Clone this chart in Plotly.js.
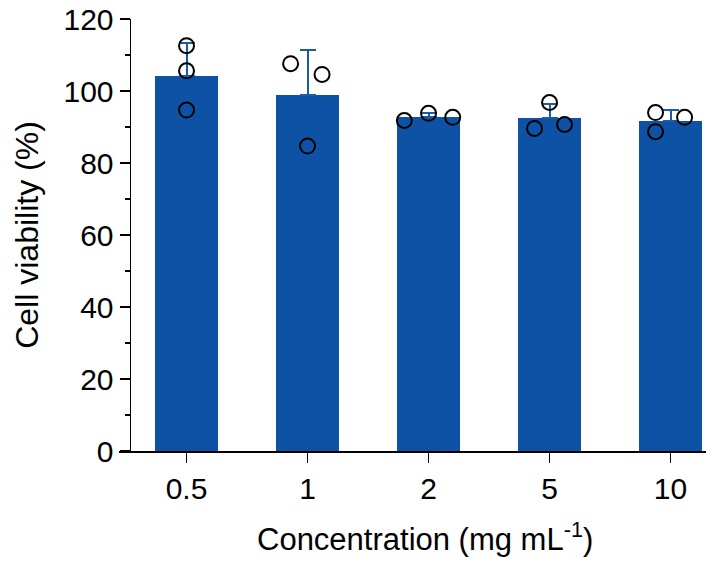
<!DOCTYPE html>
<html>
<head>
<meta charset="utf-8">
<script src="https://cdn.plot.ly/plotly-3.0.1.min.js"></script>
<style>html,body{margin:0;padding:0;background:#fff;}#chart{width:717px;height:563px;}</style>
</head>
<body>
<div id="chart"></div>
<script>
// Data
const categories = ["0.5", "1", "2", "5", "10"];
const meanValues = [104.3, 99.0, 92.8, 92.4, 91.8];
const sdValues = [9.0, 12.4, 1.0, 3.9, 2.8];
// individual replicate points (three per concentration)
const replicateValues = [
  [112.6, 105.6, 94.7],
  [107.6, 104.6, 84.7],
  [91.8, 93.8, 92.7],
  [89.6, 96.8, 90.7],
  [94.0, 88.7, 92.7]
];
// horizontal scatter offsets of the replicate points (category units)
const replicateOffsets = [
  [0, 0, 0],
  [-0.14, 0.12, 0],
  [-0.2, 0, 0.2],
  [-0.124, 0, 0.124],
  [-0.124, -0.124, 0.116]
];
const xTitle = 'Concentration (mg mL<sup>-1</sup>)';
const yTitle = 'Cell viability (%)';

const idx = categories.map((c, i) => i);
const ptX = [], ptY = [];
replicateValues.forEach((vals, i) => {
  vals.forEach((v, j) => { ptX.push(i + replicateOffsets[i][j]); ptY.push(v); });
});

const blue = '#0e52a6';
const font = 'Liberation Sans, Arial, Helvetica, sans-serif';

const traces = [
  {
    type: 'bar', x: idx, y: meanValues, width: 0.52,
    marker: {color: blue, line: {width: 0}},
    error_y: {type: 'data', symmetric: false, array: sdValues, arrayminus: sdValues.map(() => 0),
              color: '#1c5aa8', thickness: 2, width: 8},
    hoverinfo: 'skip', showlegend: false
  },
  {
    type: 'scatter', mode: 'markers', x: ptX, y: ptY, cliponaxis: false,
    marker: {symbol: 'circle-open', size: 15, color: '#000', line: {width: 2, color: '#000'}},
    showlegend: false, hoverinfo: 'skip'
  }
];

const xMin = -0.558, xMax = 4.293, yAxisAt = -0.471;

const layout = {
  width: 717, height: 563,
  margin: {l: 119, r: 11, t: 19, b: 112},
  paper_bgcolor: '#fff', plot_bgcolor: '#fff',
  font: {family: font, color: '#000', size: 30},
  showlegend: false,
  bargap: 0,
  xaxis: {
    range: [xMin, xMax], tickmode: 'array', tickvals: idx, ticktext: categories,
    showline: true, linecolor: '#000', linewidth: 1.5, mirror: false,
    ticks: 'outside', ticklen: 10, tickwidth: 1.5, tickcolor: '#000',
    showgrid: false, zeroline: false,
    tickfont: {size: 30, family: font}
  },
  yaxis: {
    range: [0, 120], anchor: 'free', position: (yAxisAt - xMin) / (xMax - xMin),
    tickmode: 'linear', tick0: 0, dtick: 20,
    showline: true, linecolor: '#000', linewidth: 1.5,
    ticks: 'outside', ticklen: 10, tickwidth: 1.5, tickcolor: '#000',
    minor: {dtick: 10, ticks: 'outside', ticklen: 5, tickwidth: 1.5, tickcolor: '#000', showgrid: false},
    showgrid: false, zeroline: false,
    tickfont: {size: 30, family: font},
    title: {text: yTitle, font: {size: 32, family: font}, standoff: 14}
  },
  annotations: [{
    text: xTitle, xref: 'paper', yref: 'paper', x: 0.521, y: -0.2, xanchor: 'center', yanchor: 'middle',
    showarrow: false, font: {size: 31, family: font, color: '#000'}
  }]
};

Plotly.newPlot('chart', traces, layout, {displayModeBar: false, staticPlot: true});
</script>
</body>
</html>
